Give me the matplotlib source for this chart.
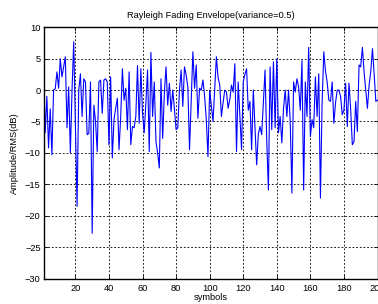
import matplotlib
matplotlib.use("Agg")
import matplotlib.pyplot as plt
import numpy as np

# envelope values in dB, one per symbol
envelope_db = [
    3.2, -6.8, -1.0, -9.2, -3.0, -10.3, 0.0, 0.2, 2.9, 0.3,
    5.0, 2.1, 3.7, 5.3, -6.0, 0.5, -10.0, 0.0, 7.7, -5.3,
    -18.5, 0.0, 2.6, -4.2, 1.8, 1.3, -7.1, -6.9, 1.3, -22.8,
    -2.4, -5.0, -9.8, 1.3, 1.6, -3.7, 1.6, 1.8, 1.3, -8.7,
    2.1, -10.8, -4.7, -2.9, -1.3, -9.5, -4.2, 3.4, -1.6, 0.3,
    -6.3, 2.9, -8.7, -5.8, -6.0, -4.2, 3.9, -5.3, 3.4, -3.7,
    -6.8, -2.0, 3.2, -9.8, 6.0, -4.2, 1.3, -8.2, -10.0, -12.4,
    1.8, -7.7, -0.5, 3.7, -2.4, 1.1, -3.4, 0.0, -3.0, -6.3,
    -6.0, 0.0, 3.2, -2.6, 3.7, 2.4, 0.5, -9.5, -1.5, 6.1,
    0.3, 4.0, -4.5, 0.3, 0.0, 1.6, -1.0, -4.7, -10.6, 0.0,
    -2.5, -5.0, 0.0, 5.3, 2.0, 0.8, -4.2, -2.0, 0.0, -0.3,
    -2.9, -1.5, 0.8, -0.3, 4.2, -9.8, 1.3, -4.0, -9.5, 1.3,
    2.5, 3.4, -3.2, -1.8, -9.5, 0.0, -6.0, -11.9, -7.0, -5.8,
    -7.1, -2.0, 3.2, -8.0, -15.9, 3.7, -6.3, 4.5, -6.0, 5.0,
    -6.8, -4.2, -8.4, -3.0, 0.0, -4.2, 0.0, -5.0, -16.4, 1.3,
    -0.3, 1.8, 0.5, -3.2, 4.7, -15.9, 1.3, -4.2, 6.8, -7.4,
    -4.7, -6.0, 2.1, -4.2, 2.6, -17.2, -2.0, 6.1, 3.0, 1.3,
    -1.6, -1.8, 1.3, -5.3, -2.0, 0.0, 0.0, -1.0, -3.9, -3.2,
    1.1, -5.8, 1.1, -3.0, -8.7, -8.2, -1.8, -6.6, 4.0, 3.7,
    6.8, 2.9, 0.0, -2.9, 0.8, 3.0, 6.6, 2.6, -1.8, -1.6,
]
symbols = np.arange(1, len(envelope_db) + 1)

x_ticks = [20, 40, 60, 80, 100, 120, 140, 160, 180, 200]
y_ticks = [-30, -25, -20, -15, -10, -5, 0, 5, 10]

plt.rcParams['font.family'] = ['Liberation Sans', 'DejaVu Sans']
fs = 6.7

fig = plt.figure(figsize=(3.78, 3.04), dpi=100)
ax = fig.add_axes([43.5 / 378, 1 - 278.5 / 304, (377.5 - 43.5) / 378, (278.5 - 27.3) / 304])

ax.plot(symbols, envelope_db, color='#0000ff', linewidth=0.8)

ax.set_xlim(1, 200)
ax.set_ylim(-30, 10)
ax.set_xticks(x_ticks)
ax.set_yticks(y_ticks)
ax.tick_params(direction='in', labelsize=fs, length=3, width=0.6, top=True, right=True)
ax.tick_params(axis='x', pad=4)
ax.tick_params(axis='y', pad=2)
ax.grid(True, color='black', linestyle=(0, (2.2, 2.2)), linewidth=0.6)

for sp in ax.spines.values():
    sp.set_linewidth(1.0)

ax.set_title("Rayleigh Fading Envelope(variance=0.5)", fontsize=fs, pad=7)
ax.set_xlabel("symbols", fontsize=fs, labelpad=0)
ax.set_ylabel("Amplitude/RMS(dB)", fontsize=fs, labelpad=4)

fig.savefig("out.png", dpi=100)
